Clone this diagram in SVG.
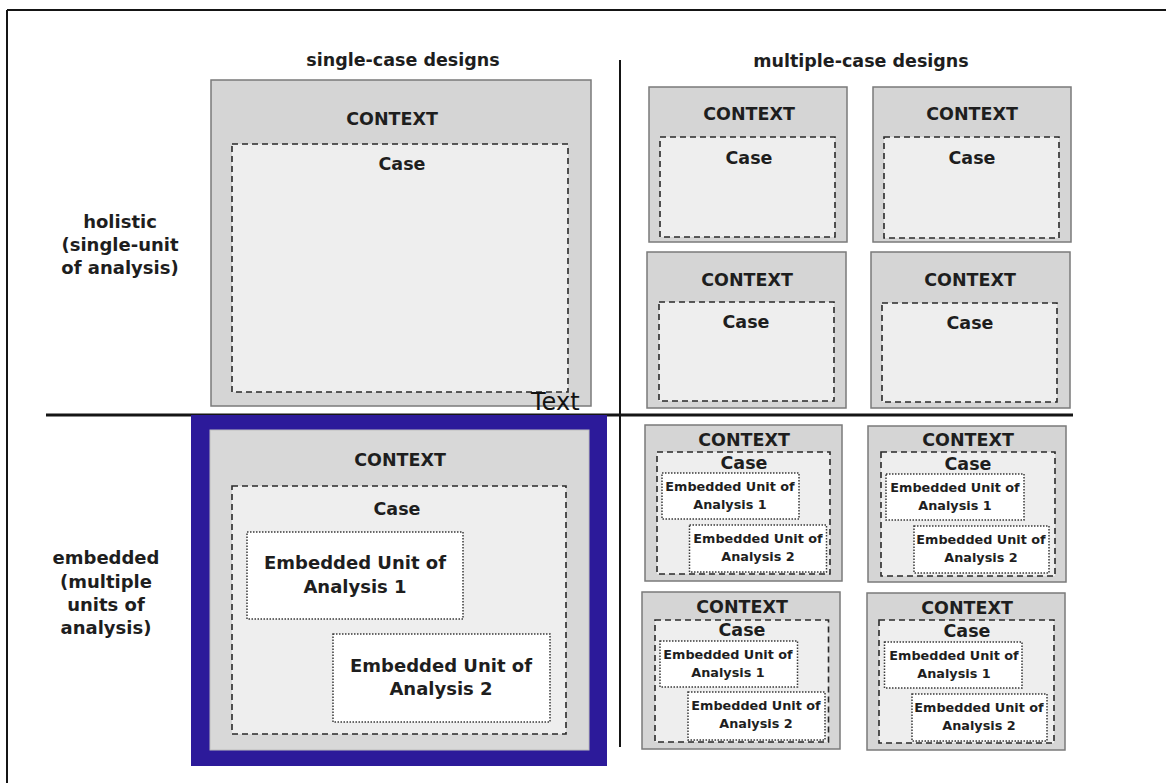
<svg xmlns="http://www.w3.org/2000/svg" width="1166" height="783" viewBox="0 0 1166 783">
<style>
.ctx{fill:#d5d5d5;stroke:#7a7a7a;stroke-width:1.5}
.case{fill:#eeeeee;stroke:#2a2a2a;stroke-width:1.6;stroke-dasharray:6 4}
.emb{fill:#ffffff;stroke:#3a3a3a;stroke-width:1.5;stroke-dasharray:1.5 1.5}
.t{font-family:"DejaVu Sans",sans-serif;font-weight:bold;fill:#1e1e1e;text-anchor:middle}
.h{font-size:17.5px}
.l{font-size:18px}
.e{font-size:18px}
.s{font-size:12.8px}
.div{stroke:#151515;fill:none}
</style>
<rect width="1166" height="783" fill="#ffffff"/>
<g id="frame">
<line class="div" x1="7" y1="10" x2="1166" y2="10" stroke-width="2"/>
<line class="div" x1="7" y1="10" x2="7" y2="783" stroke-width="2"/>
</g>
<g id="connectors">
<line class="div" x1="46" y1="415" x2="1073" y2="415" stroke-width="3"/>
<line class="div" x1="620" y1="60" x2="620" y2="747" stroke-width="2"/>
</g>
<g id="titles">
<text class="t h" x="403" y="66">single-case designs</text>
<text class="t h" x="861" y="67">multiple-case designs</text>
<text class="t l" x="120" y="228">holistic</text>
<text class="t l" x="120" y="251">(single-unit</text>
<text class="t l" x="120" y="274">of analysis)</text>
<text class="t l" x="106" y="564">embedded</text>
<text class="t l" x="106" y="588">(multiple</text>
<text class="t l" x="106" y="611">units of</text>
<text class="t l" x="106" y="634">analysis)</text>
</g>
<g id="single-holistic">
<rect class="ctx" x="211" y="80" width="380" height="326"/>
<rect class="case" x="232" y="144" width="336" height="248"/>
<text class="t h" x="392" y="125">CONTEXT</text>
<text class="t h" x="402" y="170">Case</text>
<text x="531" y="410" font-family="DejaVu Sans, sans-serif" font-size="24" fill="#111">Text</text>
</g>
<g id="single-embedded">
<rect x="191" y="415" width="416" height="351" fill="#2c1a9a"/>
<rect x="210" y="430" width="379" height="320" fill="#d8d8d8" stroke="#bdbdbd" stroke-width="1"/>
<rect class="case" x="232" y="486" width="334" height="248"/>
<text class="t h" x="400" y="466">CONTEXT</text>
<text class="t h" x="397" y="515">Case</text>
<rect class="emb" x="247" y="532" width="216" height="87"/>
<text class="t e" x="355" y="569">Embedded Unit of</text>
<text class="t e" x="355" y="593">Analysis 1</text>
<rect class="emb" x="333" y="634" width="217" height="88"/>
<text class="t e" x="441" y="672">Embedded Unit of</text>
<text class="t e" x="441" y="695">Analysis 2</text>
</g>
<g id="multi-holistic-1">
<rect class="ctx" x="649" y="87" width="198" height="155"/>
<rect class="case" x="660" y="137" width="175" height="100"/>
<text class="t h" x="749" y="120">CONTEXT</text>
<text class="t h" x="749" y="164">Case</text>
</g>
<g id="multi-holistic-2">
<rect class="ctx" x="873" y="87" width="198" height="155"/>
<rect class="case" x="884" y="137" width="175" height="101"/>
<text class="t h" x="972" y="120">CONTEXT</text>
<text class="t h" x="972" y="164">Case</text>
</g>
<g id="multi-holistic-3">
<rect class="ctx" x="647" y="252" width="199" height="156"/>
<rect class="case" x="659" y="302" width="175" height="99"/>
<text class="t h" x="747" y="286">CONTEXT</text>
<text class="t h" x="746" y="328">Case</text>
</g>
<g id="multi-holistic-4">
<rect class="ctx" x="871" y="252" width="199" height="156"/>
<rect class="case" x="882" y="303" width="175" height="99"/>
<text class="t h" x="970" y="286">CONTEXT</text>
<text class="t h" x="970" y="329">Case</text>
</g>
<g id="multi-embedded-1">
<rect class="ctx" x="645" y="425" width="197" height="156"/>
<rect class="case" x="657" y="452" width="173" height="122"/>
<text class="t h" x="744" y="446">CONTEXT</text>
<text class="t h" x="744" y="469">Case</text>
<rect class="emb" x="662" y="473" width="137" height="46"/>
<text class="t s" x="730" y="491">Embedded Unit of</text>
<text class="t s" x="730" y="509">Analysis 1</text>
<rect class="emb" x="689.5" y="525" width="137" height="47"/>
<text class="t s" x="758" y="543">Embedded Unit of</text>
<text class="t s" x="758" y="561">Analysis 2</text>
</g>
<g id="multi-embedded-2">
<rect class="ctx" x="868" y="426" width="198" height="156"/>
<rect class="case" x="881" y="452" width="174" height="124"/>
<text class="t h" x="968" y="446">CONTEXT</text>
<text class="t h" x="968" y="470">Case</text>
<rect class="emb" x="886" y="474" width="138" height="46"/>
<text class="t s" x="955" y="492">Embedded Unit of</text>
<text class="t s" x="955" y="510">Analysis 1</text>
<rect class="emb" x="914" y="526" width="135" height="47"/>
<text class="t s" x="981" y="544">Embedded Unit of</text>
<text class="t s" x="981" y="562">Analysis 2</text>
</g>
<g id="multi-embedded-3">
<rect class="ctx" x="642" y="592" width="198" height="157"/>
<rect class="case" x="655" y="620" width="173.5" height="122"/>
<text class="t h" x="742" y="613">CONTEXT</text>
<text class="t h" x="742" y="636">Case</text>
<rect class="emb" x="660" y="641" width="137.5" height="46"/>
<text class="t s" x="728" y="659">Embedded Unit of</text>
<text class="t s" x="728" y="677">Analysis 1</text>
<rect class="emb" x="688" y="692" width="137" height="48"/>
<text class="t s" x="756" y="710">Embedded Unit of</text>
<text class="t s" x="756" y="728">Analysis 2</text>
</g>
<g id="multi-embedded-4">
<rect class="ctx" x="867" y="593" width="198" height="157"/>
<rect class="case" x="879" y="620" width="175" height="123"/>
<text class="t h" x="967" y="614">CONTEXT</text>
<text class="t h" x="967" y="637">Case</text>
<rect class="emb" x="884.5" y="642" width="137.5" height="46"/>
<text class="t s" x="954" y="660">Embedded Unit of</text>
<text class="t s" x="954" y="678">Analysis 1</text>
<rect class="emb" x="912" y="694" width="135" height="47"/>
<text class="t s" x="979" y="712">Embedded Unit of</text>
<text class="t s" x="979" y="730">Analysis 2</text>
</g>
</svg>
